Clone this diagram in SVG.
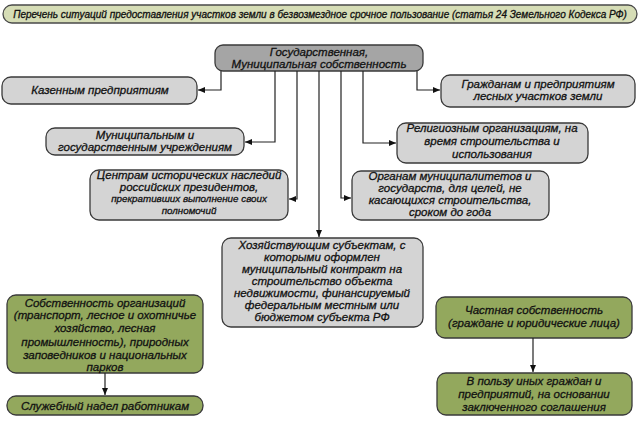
<svg xmlns="http://www.w3.org/2000/svg" width="640" height="423" viewBox="0 0 640 423">
<style>
.g{fill:#d4d4d4;stroke:#3a3a3a;stroke-width:1.3}
.c{fill:#a5a5a5;stroke:#3a3a3a;stroke-width:1.3}
.gr{fill:#93a85d;stroke:#3a3a3a;stroke-width:1.3}
.t{fill:#d6ddb6;stroke:#4a4a4a;stroke-width:1.3}
text{font-family:"Liberation Sans",Arial,sans-serif;font-style:italic;font-size:11.5px;fill:#111;text-anchor:middle;stroke:#111;stroke-width:0.3}
.s{font-size:9.8px}
.ln{fill:none;stroke:#222;stroke-width:1.2}
</style>
<defs>
<marker id="ar" markerWidth="8" markerHeight="8" refX="7" refY="4" orient="auto" markerUnits="userSpaceOnUse">
<path d="M0,1 L7,4 L0,7 Z" fill="#111"/>
</marker>
</defs>
<rect width="640" height="423" fill="#fff"/>
<g id="title">
<rect class="t" x="3" y="5" width="634" height="18" rx="9"/>
<text x="320" y="17.5" style="font-size:10px">Перечень ситуаций предоставления участков земли в безвозмездное срочное пользование (статья 24 Земельного Кодекса РФ)</text>
</g>
<g id="central">
<rect class="c" x="215" y="45" width="208" height="26" rx="8"/>
<text x="319" y="56">Государственная,</text>
<text x="319" y="68">Муниципальная собственность</text>
</g>
<g id="kazennym">
<rect class="g" x="2" y="77" width="195" height="27" rx="9"/>
<text x="100" y="94">Казенным предприятиям</text>
</g>
<g id="grazhdanam">
<rect class="g" x="441" y="75" width="194" height="32" rx="9"/>
<text x="538" y="88">Гражданам и предприятиям</text>
<text x="538" y="100">лесных участков земли</text>
</g>
<g id="municipal">
<rect class="g" x="46" y="128" width="198" height="27" rx="9"/>
<text x="145" y="139">Муниципальным и</text>
<text x="145" y="151">государственным учреждениям</text>
</g>
<g id="religioznym">
<rect class="g" x="397" y="123" width="191" height="40" rx="9"/>
<text x="492" y="132">Религиозным организациям, на</text>
<text x="492" y="145">время строительства и</text>
<text x="492" y="158">использования</text>
</g>
<g id="centram">
<rect class="g" x="90" y="170" width="198" height="50" rx="9"/>
<text x="189" y="179">Центрам исторических наследий</text>
<text x="189" y="191">российских президентов,</text>
<text x="189" y="202" class="s">прекративших выполнение своих</text>
<text x="189" y="214" class="s">полномочий</text>
</g>
<g id="organam">
<rect class="g" x="352" y="171" width="197" height="49" rx="9"/>
<text x="450" y="180">Органам муниципалитетов и</text>
<text x="450" y="192">государств, для целей, не</text>
<text x="450" y="204">касающихся строительства,</text>
<text x="450" y="216">сроком до года</text>
</g>
<g id="hozyaystvuyushchim">
<rect class="g" x="222" y="238" width="201" height="89" rx="9"/>
<text x="322" y="249">Хозяйствующим субъектам, с</text>
<text x="322" y="261">которыми оформлен</text>
<text x="322" y="273">муниципальный контракт на</text>
<text x="322" y="285">строительство объекта</text>
<text x="322" y="297">недвижимости, финансируемый</text>
<text x="322" y="309">федеральным местным или</text>
<text x="322" y="321">бюджетом субъекта РФ</text>
</g>
<g id="sobstvennost">
<rect class="gr" x="7" y="295" width="196" height="78" rx="9"/>
<text x="105" y="307">Собственность организаций</text>
<text x="105" y="319">(транспорт, лесное и охотничье</text>
<text x="105" y="332">хозяйство, лесная</text>
<text x="105" y="346">промышленность), природных</text>
<text x="105" y="359">заповедников и национальных</text>
<text x="105" y="371">парков</text>
</g>
<g id="sluzhebny">
<rect class="gr" x="7" y="396" width="196" height="19" rx="9"/>
<text x="105" y="409.5">Служебный надел работникам</text>
</g>
<g id="chastnaya">
<rect class="gr" x="436" y="297" width="196" height="41" rx="9"/>
<text x="534" y="314">Частная собственность</text>
<text x="534" y="327">(граждане и юридические лица)</text>
</g>
<g id="v-polzu">
<rect class="gr" x="437" y="373" width="195" height="42" rx="9"/>
<text x="534" y="385">В пользу иных граждан и</text>
<text x="534" y="398">предприятий, на основании</text>
<text x="534" y="411">заключенного соглашения</text>
</g>
<g id="connectors">
<path class="ln" d="M221,71 V90 H198" marker-end="url(#ar)"/>
<path class="ln" d="M417,71 V90 H440" marker-end="url(#ar)"/>
<path class="ln" d="M275,71 V142 H245" marker-end="url(#ar)"/>
<path class="ln" d="M297,71 V199 H289" marker-end="url(#ar)"/>
<path class="ln" d="M319,71 V237" marker-end="url(#ar)"/>
<path class="ln" d="M341,71 V198 H351" marker-end="url(#ar)"/>
<path class="ln" d="M363,71 V143 H396" marker-end="url(#ar)"/>
<path class="ln" d="M105,373 V395" marker-end="url(#ar)"/>
<path class="ln" d="M533,338 V372" marker-end="url(#ar)"/>
</g>
</svg>
